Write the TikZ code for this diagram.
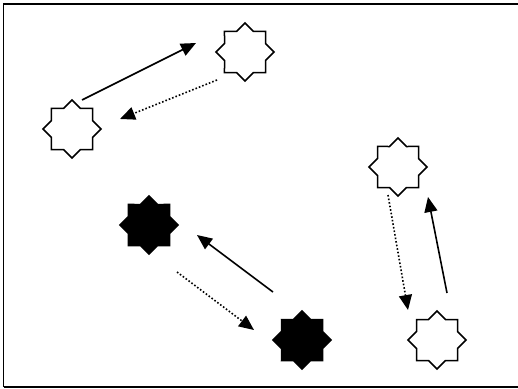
\documentclass[tikz,border=0pt]{standalone}
\usetikzlibrary{calc,shapes.geometric,arrows.meta}
\tikzset{
>={Triangle[length=15pt,width=13pt]},
  openstar/.style={
    star,
    star points=8,
    star point ratio=1.307,
    minimum size=58pt,
    inner sep=0pt,
    draw=black, line width=1.5pt,
    fill=white},
  blackstar/.style={openstar, fill=black},
  push/.style={draw, line width=1.6pt, ->},
  pull/.style={draw, line width=1.6pt, dotted, ->},
  frameline/.style={draw, line width=1.5pt},
}

\begin{document}
\begin{tikzpicture}
  [x=1pt, y=-1pt]
  \useasboundingbox (0,0) rectangle (518,388);
  \draw[frameline] (3.5,387) -- (3.5,4) -- (518,4);
  \draw[frameline] (3.5,387) -- (518,387);
     \node[openstar] (TopStar) at (245,52) {};
     \node[openstar] (LeftStar) at (72,129) {};
     \node[blackstar] (UpperBlack) at (149,225) {};
     \node[blackstar] (LowerBlack) at (302,340) {};
     \node[openstar] (RightStar) at (398,167) {};
     \node[openstar] (CornerStar) at (437,340) {};
  % arrow ends sit a little off each star
     \coordinate (LeftOut) at ($(LeftStar)+(10,-29)$);
     \coordinate (TopIn) at ($(TopStar)+(-49,-9)$);
     \coordinate (TopOut) at ($(TopStar)+(-28,28)$);
     \coordinate (LeftIn) at ($(LeftStar)+(48,-10)$);
     \coordinate (LowerOut) at ($(LowerBlack)+(-29,-48)$);
     \coordinate (UpperIn) at ($(UpperBlack)+(48,10)$);
     \coordinate (UpperOut) at ($(UpperBlack)+(28,47)$);
     \coordinate (LowerIn) at ($(LowerBlack)+(-48,-10)$);
     \coordinate (RightOut) at ($(RightStar)+(-10,28)$);
     \coordinate (CornerIn) at ($(CornerStar)+(-29,-30)$);
     \coordinate (CornerOut) at ($(CornerStar)+(10,-47)$);
     \coordinate (RightIn) at ($(RightStar)+(30,30)$);
  % solid ones forward, dotted ones back
     \draw[push] (LeftOut) -- (TopIn);
     \draw[pull] (TopOut) -- (LeftIn);
     \draw[push] (LowerOut) -- (UpperIn);
     \draw[pull] (UpperOut) -- (LowerIn);
     \draw[pull] (RightOut) -- (CornerIn);
     \draw[push] (CornerOut) -- (RightIn);
\end{tikzpicture}
\end{document}
